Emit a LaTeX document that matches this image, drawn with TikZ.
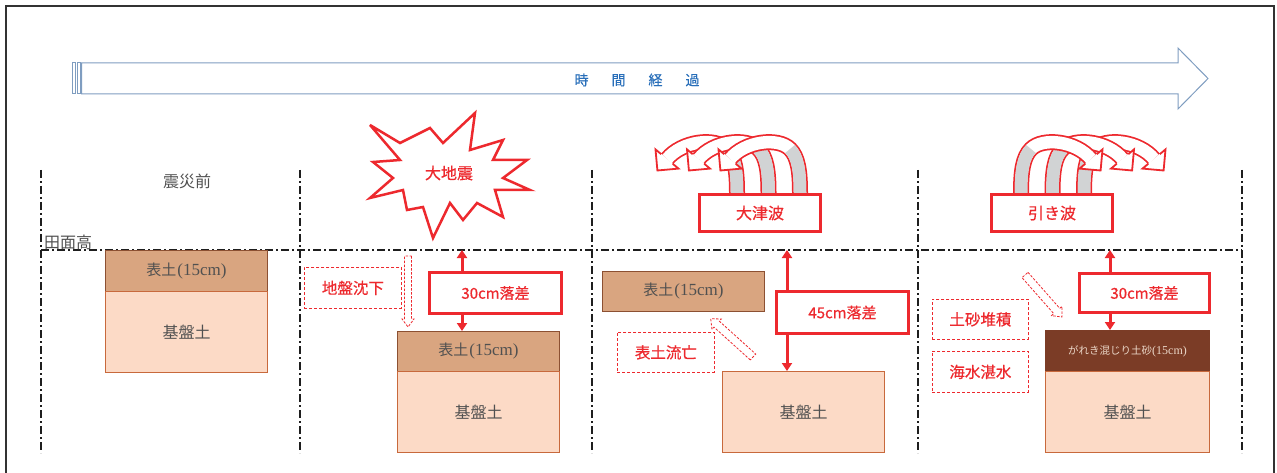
\documentclass[tikz,border=0pt]{standalone}
\usepackage{fontspec}
\setmainfont{Liberation Serif}
\newfontfamily\jp{Noto Sans CJK JP}
\newfontfamily\jpb[FakeBold=0.6]{Noto Sans CJK JP}
\usetikzlibrary{arrows.meta}

\definecolor{wred}{RGB}{237,41,46}
\definecolor{tlblue}{RGB}{127,157,192}
\definecolor{tltext}{RGB}{40,110,185}
\definecolor{topsoil}{RGB}{217,165,128}
\definecolor{topsoilline}{RGB}{140,80,50}
\definecolor{basesoil}{RGB}{252,218,198}
\definecolor{basesoilline}{RGB}{200,105,60}
\definecolor{rubble}{RGB}{123,60,38}
\definecolor{rubbletext}{RGB}{235,215,200}
\definecolor{labelgray}{RGB}{80,80,80}
\definecolor{wavegray}{RGB}{209,211,212}
\definecolor{guidecol}{RGB}{30,30,30}
\definecolor{framecol}{RGB}{50,50,50}

% hollow dashed block arrow: start point, direction angle, length, half shaft, half head
\newcommand\hollowarrow[5]{%
  \begin{scope}[shift={#1}, rotate=#2]
    \draw[hollow] (0,-#4) -- (#3-8,-#4) -- (#3-8,-#5) -- (#3,0) -- (#3-8,#5) -- (#3-8,#4) -- (0,#4) -- cycle;
  \end{scope}}
% topsoil caption: kanji plus a serif thickness note
\newcommand\soilnote[2]{{\jp\fontsize{#1pt}{#1pt}\selectfont 表土}\kern1pt{\fontsize{#2pt}{#2pt}\selectfont(15cm)}}

\tikzset{
  guide/.style={draw=guidecol, line width=2.2pt, dash pattern=on 8pt off 3pt on 2pt off 3pt},
  topbox/.style={draw=topsoilline, fill=topsoil, line width=1pt, text=labelgray,
    inner sep=0pt, anchor=north west},
  basebox/.style={draw=basesoilline, fill=basesoil, line width=1pt, text=labelgray,
    font=\jp\fontsize{16pt}{16pt}\selectfont, inner sep=0pt, anchor=north west},
  dropbox/.style={draw=wred, fill=white, line width=3pt, text=wred,
    font=\jpb\fontsize{15pt}{15pt}\selectfont, inner sep=0pt, anchor=north west},
  notebox/.style={draw=wred, dash pattern=on 3pt off 2pt, line width=0.8pt, fill=white, text=wred,
    font=\jpb\fontsize{15.5pt}{15.5pt}\selectfont, inner sep=0pt, anchor=north west},
  wavebox/.style={draw=wred, fill=white, line width=3pt, text=wred,
    font=\jpb\fontsize{16pt}{16pt}\selectfont, inner sep=0pt, anchor=north west},
  hollow/.style={draw=wred, dash pattern=on 2.5pt off 1.5pt, line width=0.8pt, fill=white},
  lift/.style={draw=wred, line width=3pt,
    {Triangle[width=10pt,length=8pt]}-{Triangle[width=10pt,length=8pt]}},
  % one curling wave: base at the origin, head pointing up-left
  wave/.pic={
    \draw[wred, line width=16pt] (0,0) .. controls (0,-22) and (-2,-36) .. (-10,-44)
      .. controls (-22,-56) and (-55,-52) .. (-70,-34);
    \draw[white, line width=12.5pt] (0,0.5) .. controls (0,-22) and (-2,-36) .. (-10,-44)
      .. controls (-22,-56) and (-55,-52) .. (-70,-34);
    \draw[wavegray, line width=12.5pt] (0,0.5) .. controls (0,-22) and (-2,-36) .. (-10,-44);
    \fill[white] (-58.5,-24.4) -- (-79.6,-22.5) -- (-81.5,-43.6) -- cycle;
    \draw[wred, line width=1.8pt, line join=miter]
      (-64.2,-29.2) -- (-58.5,-24.4) -- (-79.6,-22.5) -- (-81.5,-43.6) -- (-75.8,-38.8);
  },
}

\begin{document}
\begin{tikzpicture}[x=1pt, y=-1pt]
\useasboundingbox (0,0) rectangle (1277,473);

% outer frame
\draw[framecol, line width=2pt] (6,473) -- (6,6) -- (1274,6) -- (1274,473);

% time axis
\begin{scope}[draw=tlblue, line width=1pt]
  \draw (72.5,63) rectangle (75.5,94);
  \draw (77,63) rectangle (80.5,94);
  \draw (81.5,63) -- (1178,63) -- (1178,48) -- (1208,78.5) -- (1178,109) -- (1178,94) -- (81.5,94) -- cycle;
\end{scope}
\node[text=tltext, font=\jpb\fontsize{14pt}{14pt}\selectfont] (time) at (637,80)
  {時\hspace{23pt}間\hspace{23pt}経\hspace{23pt}過};

% stage separators and field level
\foreach \gx in {41,300,592,918,1242}
  \draw[guide] (\gx,170) -- (\gx,453);
\draw[guide] (41,250) -- (1242,250);

\node[text=labelgray, font=\jp\fontsize{16pt}{16pt}\selectfont] (before) at (187,181) {震災前};
\node[text=labelgray, font=\jp\fontsize{16pt}{16pt}\selectfont, anchor=west, inner sep=0pt] (level) at (44,242) {田面高};

% stage 1: before the disaster
\node[topbox, minimum width=162pt, minimum height=41pt] (top1) at (105,250) {\soilnote{15}{17}};
\node[basebox, minimum width=162pt, minimum height=81pt] (base1) at (105,291) {基盤土};

% stage 2: earthquake
\draw[wred, line width=2.5pt, fill=white, line join=miter, miter limit=6]
  (370,125) -- (400,143) -- (430,128) -- (443,143) -- (475,113) -- (470,150) -- (503,140)
  -- (493,160) -- (527,160) -- (503,178) -- (530,190) -- (495,190) -- (503,217) -- (477,203)
  -- (463,220) -- (450,203) -- (433,238) -- (423,207) -- (407,210) -- (403,190) -- (370,198)
  -- (393,178) -- (373,162) -- (400,160) -- cycle;
\node[text=wred, font=\jpb\fontsize{16pt}{16pt}\selectfont] (quake) at (449,173) {大地震};

\node[notebox, minimum width=97pt, minimum height=41pt] (sink) at (304,267) {地盤沈下};
\hollowarrow{(408,256)}{-90}{71}{3.5}{6}
\node[topbox, minimum width=162pt, minimum height=40pt] (top2) at (397,331) {\soilnote{15}{17}};
\node[basebox, minimum width=162pt, minimum height=81pt] (base2) at (397,371) {基盤土};
\coordinate (lvl2) at (462,250);
\draw[lift] (lvl2) -- (lvl2 |- top2.north);
\node[dropbox, minimum width=132pt, minimum height=41pt] (drop2) at (428,271) {30cm落差};

% stage 3: tsunami
\pic at (737,193) {wave};
\pic at (768.5,193) {wave};
\pic at (800,193) {wave};
\node[wavebox, minimum width=121pt, minimum height=37pt] (tsunami) at (698,193) {大津波};

\node[topbox, minimum width=162pt, minimum height=40pt] (top3) at (602,271) {\soilnote{15}{17}};
\node[basebox, minimum width=162pt, minimum height=81pt] (base3) at (722,371) {基盤土};
\node[notebox, minimum width=97pt, minimum height=40pt] (loss) at (617,332) {表土流亡};
\hollowarrow{(753,357)}{137.9}{57}{4}{7}
\coordinate (lvl3) at (787,250);
\draw[lift] (lvl3) -- (lvl3 |- base3.north);
\node[dropbox, minimum width=132pt, minimum height=42pt] (drop3) at (775,290) {45cm落差};

% stage 4: backwash
\pic[xscale=-1] at (1084,193) {wave};
\pic[xscale=-1] at (1052.5,193) {wave};
\pic[xscale=-1] at (1021,193) {wave};
\node[wavebox, minimum width=121pt, minimum height=37pt] (backwash) at (990,193) {引き波};

\node[notebox, minimum width=96pt, minimum height=40pt] (deposit) at (932,299) {土砂堆積};
\node[notebox, minimum width=96pt, minimum height=41pt] (flood) at (932,351) {海水湛水};
\hollowarrow{(1025,275)}{-48.6}{56}{4}{7}
\node[topbox, draw=rubble, fill=rubble, text=rubbletext,
  minimum width=164pt, minimum height=41pt] (rubble4) at (1045,330)
  {{\jp\fontsize{10.5pt}{10.5pt}\selectfont がれき混じり土砂}{\fontsize{12pt}{12pt}\selectfont(15cm)}};
\node[basebox, minimum width=164pt, minimum height=81pt] (base4) at (1045,371) {基盤土};
\coordinate (lvl4) at (1110,250);
\draw[lift] (lvl4) -- (lvl4 |- rubble4.north);
\node[dropbox, minimum width=130pt, minimum height=39pt] (drop4) at (1078,272) {30cm落差};
\end{tikzpicture}
\end{document}
